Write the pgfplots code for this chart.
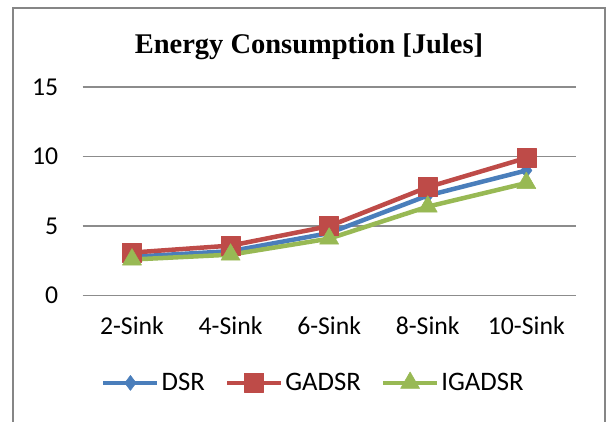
\documentclass[border=0pt]{standalone}
\usepackage{pgfplots}
\pgfplotsset{compat=1.18}
\usepackage{fontspec}
\setmainfont{Carlito}
\newfontfamily\titlefont{Liberation Serif}
\definecolor{cblue}{HTML}{4A7EBB}
\definecolor{cred}{HTML}{BE4B48}
\definecolor{cgreen}{HTML}{98B954}
\definecolor{cgrid}{HTML}{8C8C8C}
\definecolor{cframe}{HTML}{868686}
\begin{document}
\begin{tikzpicture}[x=1bp,y=1bp]
\useasboundingbox (0,0) rectangle (608,421);
\fill[white] (0,0) rectangle (608,421);
\draw[cframe, line width=2bp] (13,-20) -- (13,413) -- (605,413) -- (605,-20);
\begin{axis}[
  at={(82.7bp,125.3bp)}, anchor=south west,
  scale only axis, width=492.9bp, height=208.7bp,
  xmin=-0.5, xmax=4.5, ymin=0, ymax=15,
  xtick={0,1,2,3,4},
  xticklabels={2-Sink,4-Sink,6-Sink,8-Sink,10-Sink},
  ytick={0,5,10,15},
  axis line style={draw=none},
  major tick length=0pt,
  ymajorgrids, grid style={cgrid, line width=1.3bp},
  tick label style={font=\fontsize{25.8}{30}\selectfont, text=black},
  /pgf/number format/assume math mode=true,
  yticklabel style={xshift=-21bp},
  xticklabel style={yshift=-17bp},
  title={\titlefont\bfseries Energy Consumption [Jules]},
  title style={font=\fontsize{28.6}{33}\selectfont, at={(0.459,1.134)}, anchor=base},
  legend columns=3,
  legend style={draw=none, fill=none, at={(0.468,-0.418)}, anchor=center,
    font=\fontsize{26.8}{31}\selectfont, /tikz/every even column/.append style={column sep=18bp}},
  legend image code/.code={\draw[mark repeat=2,mark phase=2] plot coordinates {(0bp,0bp) (27bp,0bp) (54bp,0bp)};},
  clip=false,
]
\addplot[cblue, line width=4.5bp, line join=round, mark=diamond*, mark size=7.5bp, mark options={solid, line width=0.5bp}]
  coordinates {(0,2.8) (1,3.2) (2,4.5) (3,7.2) (4,9.0)};
\addlegendentry{DSR}
\addplot[cred, line width=4.5bp, line join=round, mark=square*, mark size=9.5bp, mark options={solid, line width=0.5bp}]
  coordinates {(0,3.1) (1,3.6) (2,5.0) (3,7.8) (4,9.9)};
\addlegendentry{GADSR}
\addplot[cgreen, line width=4.5bp, line join=round, mark=triangle*, mark size=11bp, mark options={solid, line width=0.5bp}]
  coordinates {(0,2.6) (1,2.95) (2,4.1) (3,6.4) (4,8.1)};
\addlegendentry{IGADSR}
\end{axis}
\end{tikzpicture}
\end{document}
